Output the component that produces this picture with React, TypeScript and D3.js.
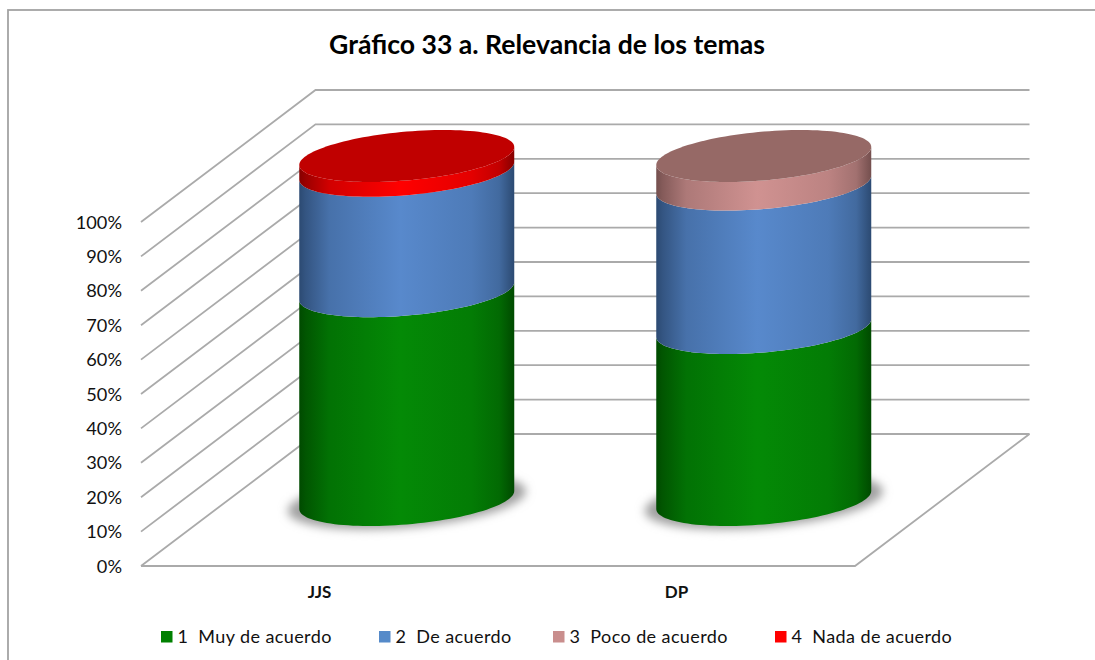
import React from "react";
import * as d3 from "d3";

const categories = ["JJS", "DP"];
const seriesNames = ["1  Muy de acuerdo", "2  De acuerdo", "3  Poco de acuerdo", "4  Nada de acuerdo"];
const muyDeAcuerdo = [60.7, 50];
const deAcuerdo = [35, 41.7];
const pocoDeAcuerdo = [0, 8.3];
const nadaDeAcuerdo = [4.3, 0];
const ticks = [0, 10, 20, 30, 40, 50, 60, 70, 80, 90, 100];
const seriesValues = [muyDeAcuerdo, deAcuerdo, pocoDeAcuerdo, nadaDeAcuerdo];
const swatch = ["#008000", "#558ac9", "#c98e8d", "#ff0000"];
const sideEdge = ["#004a00", "#2c4a72", "#744f4e", "#850000"];
const sideMid = ["#048a06", "#5889cc", "#d09291", "#ff0000"];
const capColour = ["#006000", "#3c5f8c", "#966966", "#c00000"];
const legendX = [161, 379, 553, 775];

const FONT = "Lato, 'Open Sans', sans-serif";
const grid = "#aaaaaa";
const depthX = 174.5;
const depthY = -132;
const x = d3.scaleBand<string>().domain(categories).range([141, 855]);
const y = d3.scaleLinear().domain([0, 100]).range([566, 222]);
const A = 107.5, B = 24.4, K = 9;

const arc = d3.line<number>()
  .x((t) => 0 + A * Math.cos(t))
  .y((t) => B * Math.sin(t) - K * Math.cos(t));
const frontTs = d3.range(0, 61).map((i) => Math.PI - (Math.PI * i) / 60);
const fullTs = d3.range(0, 121).map((i) => (2 * Math.PI * i) / 120);

function side(y0: number, y1: number) {
  const bottom = frontTs.map((t) => [A * Math.cos(t), y0 + B * Math.sin(t) - K * Math.cos(t)] as [number, number]);
  const top = [...frontTs].reverse().map((t) => [A * Math.cos(t), y1 + B * Math.sin(t) - K * Math.cos(t)] as [number, number]);
  return d3.line()([...bottom, ...top]) + "Z";
}

export default function App() {
  const offset = (v: number) => y(v) + depthY / 2;
  const stops = [0, 0.03, 0.14, 0.47, 0.8, 0.93, 1];
  const mix = [0.0, 0.18, 0.62, 1, 0.78, 0.5, 0.0];
  return (
    <svg width={1095} height={660} style={{ position: "absolute", left: 0, top: 0, background: "#fff" }}>
      <defs>
        {swatch.map((_, i) => (
          <linearGradient key={i} id={`side${i}`} x1="0" x2="1" y1="0" y2="0">
            {stops.map((s, j) => (
              <stop key={j} offset={s} stopColor={d3.interpolateRgb(sideEdge[i], sideMid[i])(mix[j])} />
            ))}
          </linearGradient>
        ))}
        <filter id="blur" x="-20%" y="-40%" width="140%" height="180%">
          <feGaussianBlur stdDeviation="5" />
        </filter>
      </defs>
      <rect x={8} y={10} width={1100} height={670} fill="#fff" stroke="#a3a3a3" strokeWidth={1.8} />
      <text x={547} y={53.5} textAnchor="middle" fontFamily={FONT} fontWeight={700} fontSize={26.6} fill="#000">
        Gráfico 33 a. Relevancia de los temas
      </text>

      {ticks.map((t) => (
        <g key={t}>
          <polyline
            points={`${141},${y(t)} ${141 + depthX},${y(t) + depthY} ${855 + depthX},${y(t) + depthY}`}
            fill="none"
            stroke={grid}
            strokeWidth={1.8}
          />
          <text x={122} y={y(t) + 6.5} textAnchor="end" fontFamily={FONT} fontSize={18.2} fill="#111">
            {t}%
          </text>
        </g>
      ))}
      <polyline
        points={`${141},${y(0)} ${855},${y(0)} ${855 + depthX},${y(0) + depthY}`}
        fill="none"
        stroke={grid}
        strokeWidth={1.8}
      />

      {categories.map((c, ci) => {
        const cx = (x(c) as number) + x.bandwidth() / 2 + depthX / 2;
        let acc = 0;
        const segs = seriesValues.map((vals, si) => {
          const v0 = acc;
          acc += vals[ci];
          return { si, v0, v1: acc, v: vals[ci] };
        }).filter((s) => s.v > 0);
        const last = segs[segs.length - 1];
        return (
          <g key={c}>
            <ellipse cx={cx} cy={offset(0) + 1} rx={A + 12} ry={B + 2} fill="#a0a0a0" filter="url(#blur)"
              transform={`rotate(-5 ${cx} ${offset(0)})`} />
            <g transform={`translate(${cx},0)`}>
              {segs.map((s) => (
                <path key={s.si} d={side(offset(s.v0), offset(s.v1))} fill={`url(#side${s.si})`} />
              ))}
              <path
                d={(arc(fullTs) as string) + "Z"}
                transform={`translate(0,${offset(last.v1)})`}
                fill={capColour[last.si]}
              />
            </g>
            <text x={(x(c) as number) + x.bandwidth() / 2} y={598} textAnchor="middle" fontFamily={FONT} fontWeight={700} fontSize={17} fill="#111">
              {c}
            </text>
          </g>
        );
      })}

      {seriesNames.map((n, i) => (
        <g key={n}>
          <rect x={legendX[i]} y={631} width={11.5} height={11.5} fill={swatch[i]} />
          <text x={legendX[i] + 16.5} y={643} fontFamily={FONT} fontSize={18} letterSpacing={0.4} fill="#111" style={{ whiteSpace: "pre" }}>
            {n}
          </text>
        </g>
      ))}
    </svg>
  );
}
